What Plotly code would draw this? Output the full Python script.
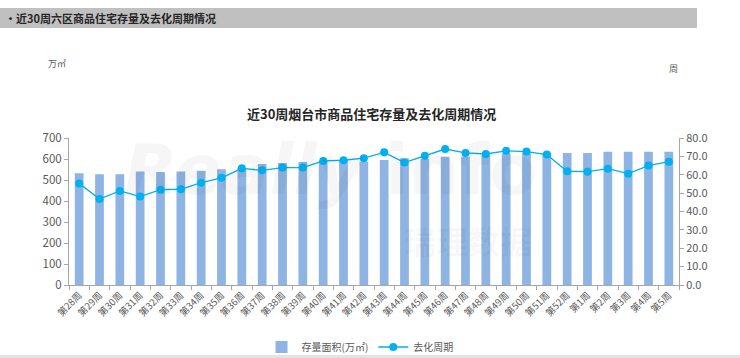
import plotly.graph_objects as go

weeks = ["第28周", "第29周", "第30周", "第31周", "第32周", "第33周", "第34周", "第35周",
         "第36周", "第37周", "第38周", "第39周", "第40周", "第41周", "第42周", "第43周",
         "第44周", "第45周", "第46周", "第47周", "第48周", "第49周", "第50周", "第51周",
         "第52周", "第1周", "第2周", "第3周", "第4周", "第5周"]
stock_area = [532, 527, 527, 541, 538, 541, 544, 551, 556, 576, 581, 586, 592, 595, 587, 595,
              603, 600, 611, 611, 620, 627, 630, 630, 629, 629, 635, 635, 635, 635]
cycle = [55.3, 46.8, 51.2, 48.1, 51.9, 52.1, 55.7, 58.3, 63.5, 62.4, 63.9, 63.9, 67.5, 67.9, 69.0,
         72.2, 66.6, 70.4, 74.0, 71.9, 71.3, 73.0, 72.6, 71.0, 61.9, 61.7, 63.3, 60.6, 65.0, 67.1]
left_ticks = [0, 100, 200, 300, 400, 500, 600, 700]
right_ticks = [0, 10, 20, 30, 40, 50, 60, 70, 80]

FONT = "Noto Sans CJK SC"
GRAY = "#595959"
AXIS = "#A6A6A6"

L, R, T, B = 69, 679, 138, 285
PW, PH = R - L, B - T


def px(x):
    return (x - L) / PW


def py(y):
    return (B - y) / PH


fig = go.Figure()
fig.add_trace(go.Bar(x=weeks, y=stock_area, name="存量面积(万㎡)",
                     marker=dict(color="#8DB4E2", line=dict(width=0)), yaxis="y"))
fig.add_trace(go.Scatter(x=weeks, y=cycle, name="去化周期", mode="lines+markers",
                         line=dict(color="#00B0F0", width=1.3),
                         marker=dict(color="#00B0F0", size=8), yaxis="y2"))

fig.update_layout(
    width=740, height=358,
    margin=dict(l=L, r=740 - R, t=T, b=358 - B, autoexpand=False),
    paper_bgcolor="white", plot_bgcolor="rgba(0,0,0,0)",
    font=dict(family=FONT, size=11, color=GRAY),
    bargap=0.57,
    showlegend=True,
    legend=dict(orientation="h", xref="paper", yref="paper",
                x=px(360), y=py(347), xanchor="center", yanchor="middle",
                font=dict(family=FONT, size=10, color=GRAY),
                itemwidth=30, tracegroupgap=0, bgcolor="rgba(0,0,0,0)"),
    xaxis=dict(type="category", range=[-0.5, len(weeks) - 0.5], tickangle=-45,
               tickfont=dict(size=9.5, color=GRAY),
               showline=True, linecolor=AXIS, linewidth=1, ticks="outside",
               tickson="boundaries", ticklen=4, tickcolor=AXIS, showgrid=False,
               zeroline=False, automargin=False),
    yaxis=dict(range=[0, 700], tickvals=left_ticks, showgrid=False, zeroline=False,
               showline=True, linecolor=AXIS, linewidth=1, ticks="outside",
               ticklen=4, tickcolor=AXIS, tickfont=dict(size=11.5, color=GRAY),
               automargin=False),
    yaxis2=dict(range=[0, 80], tickvals=right_ticks, tickformat=".1f", overlaying="y",
                side="right", showgrid=False, zeroline=False, showline=True,
                linecolor=AXIS, linewidth=1, ticks="outside", ticklen=4, tickcolor=AXIS,
                tickfont=dict(size=11, color=GRAY), automargin=False),
    shapes=[
        dict(type="rect", xref="paper", yref="paper", x0=px(0), x1=px(697),
             y0=py(8), y1=py(28), fillcolor="#C0C0C0", line=dict(width=0),
             layer="below"),
        dict(type="rect", xref="paper", yref="paper", x0=px(0), x1=px(740),
             y0=py(355), y1=py(358), fillcolor="#E3E3E3", line=dict(width=0),
             layer="below"),
    ],
    annotations=[
        dict(text="<b>•近30周六区商品住宅存量及去化周期情况</b>", xref="paper", yref="paper",
             x=px(3), y=py(18), xanchor="left", yanchor="middle", showarrow=False,
             font=dict(family=FONT, size=11, color="#262626")),
        dict(text="<b>近30周烟台市商品住宅存量及去化周期情况</b>", xref="paper", yref="paper",
             x=px(371), y=py(113), xanchor="center", yanchor="middle",
             showarrow=False, font=dict(family=FONT, size=13, color="#262626")),
        dict(text="万㎡", xref="paper", yref="paper", x=px(57), y=py(63),
             xanchor="center", yanchor="middle", showarrow=False,
             font=dict(family=FONT, size=9, color=GRAY)),
        dict(text="周", xref="paper", yref="paper", x=px(673), y=py(69),
             xanchor="center", yanchor="middle", showarrow=False,
             font=dict(family=FONT, size=9, color=GRAY)),
        dict(text="<i><b>Really</b></i> <b>info</b>", xref="paper", yref="paper", x=px(330),
             y=py(170), xanchor="center", yanchor="middle", showarrow=False,
             font=dict(family="DejaVu Sans", size=70, color="rgba(0,0,0,0.035)")),
        dict(text="<b>瑞理数据</b>", xref="paper", yref="paper", x=px(468),
             y=py(240), xanchor="center", yanchor="middle", showarrow=False,
             font=dict(family=FONT, size=32, color="rgba(0,0,0,0.035)")),
    ],
)

fig.write_html("out.html", config={"displayModeBar": False},
               post_script="document.body.style.margin='0px';")
